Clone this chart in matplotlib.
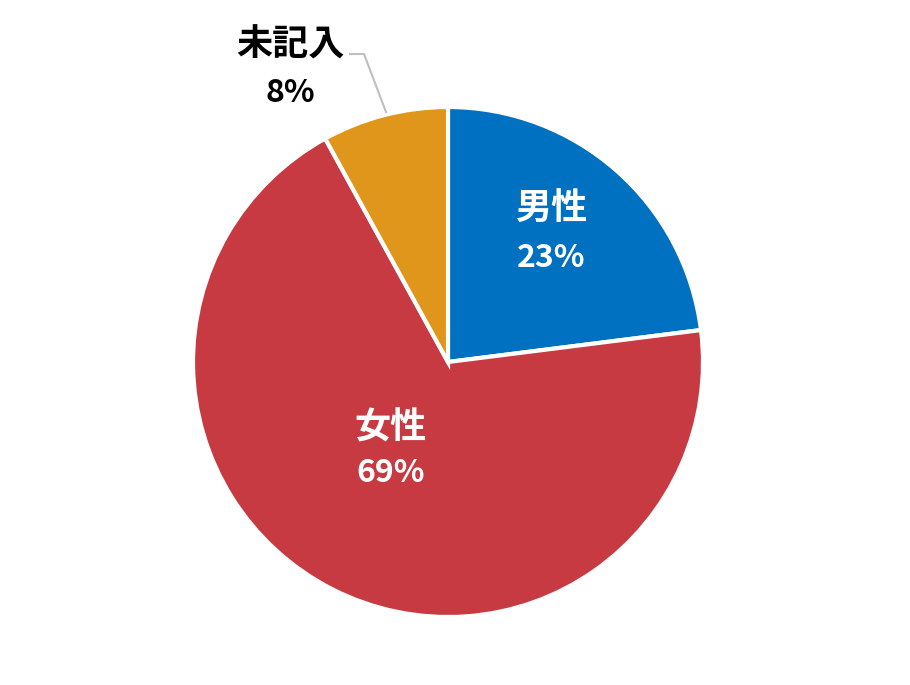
import matplotlib
matplotlib.use("Agg")
import matplotlib.pyplot as plt

labels = ["男性", "女性", "未記入"]
values = [23, 69, 8]
colors = ["#0070C0", "#C83A42", "#E0961A"]

fig = plt.figure(figsize=(9.10, 6.85), dpi=100)
cx, cy, r = 448 / 910, 1 - 362 / 685, 255
ax = fig.add_axes([cx - r / 910, cy - r / 685, 2 * r / 910, 2 * r / 685])
wedges, _ = ax.pie(values, colors=colors, startangle=90, counterclock=False,
                   wedgeprops=dict(edgecolor="white", linewidth=3), radius=1)
ax.set_xlim(-1, 1)
ax.set_ylim(-1, 1)
ax.set_aspect("equal")
ax.axis("off")

fam_j = ["Noto Sans CJK JP", "DejaVu Sans"]
fam_n = ["Liberation Sans Narrow", "Noto Sans CJK JP", "DejaVu Sans"]

pos = [((551 - 448) / 255, (362 - 209) / 255, (362 - 258) / 255, "white"),
       ((391 - 448) / 255, (362 - 428) / 255, (362 - 473) / 255, "white"),
       ((290 - 448) / 255, (362 - 45) / 255, (362 - 93) / 255, "black")]
for lab, v, (x, y1, y2, c) in zip(labels, values, pos):
    ax.text(x, y1, lab, ha="center", va="center", fontsize=26, fontweight="bold",
            color=c, family=fam_j, clip_on=False)
    ax.text(x, y2, f"{v}%", ha="center", va="center", fontsize=23, fontweight="bold",
            color=c, family=fam_n, clip_on=False)

# leader line for 未記入
lx = [(350 - 448) / 255, (364 - 448) / 255, (386 - 448) / 255]
ly = [(362 - 54) / 255, (362 - 54) / 255, (362 - 112) / 255]
ax.plot(lx, ly, color="#BFBFBF", lw=1.5, clip_on=False)

fig.savefig("out.png", dpi=100, facecolor="white")
